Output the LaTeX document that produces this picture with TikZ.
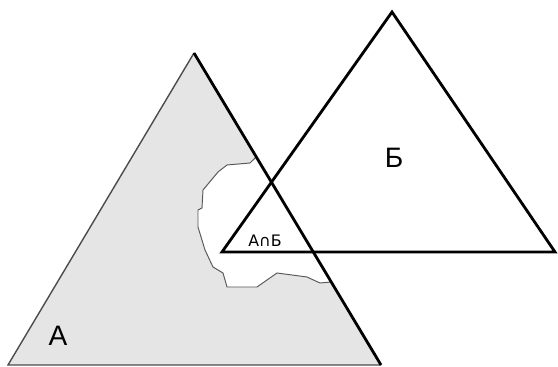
\documentclass[tikz,border=0pt]{standalone}
\usepackage{fontspec}
\setmainfont{Liberation Sans}
\newfontfamily\symfont{DejaVu Sans}
\usetikzlibrary{positioning,calc}

\begin{document}
\begin{tikzpicture}[x=0.02cm, y=-0.02cm,
    thickedge/.style={line width=1.6pt, black, line join=miter},
    thinedge/.style={line width=0.8pt, black!70},
    cutline/.style={line width=0.55pt, black!65},
    setfill/.style={fill=black!10},
    biglabel/.style={font=\fontsize{16}{16}\selectfont},
    smalllabel/.style={font=\symfont\fontsize{9}{9}\selectfont}
]
    \useasboundingbox (0,0) rectangle (558,367);

    % triangle A
    \coordinate (atop) at (194,53);
    \coordinate (aleft) at (8,365);
    \coordinate (aright) at (381,365);
    % triangle B
    \coordinate (btop) at (392,12);
    \coordinate (bleft) at (222,252);
    \coordinate (bright) at (555,252);
    % where the torn edge meets the side of A
    \coordinate (cutstart) at ($(atop)!0.333!(aright)$);
    \coordinate (cutend) at ($(atop)!0.734!(aright)$);

    % shaded set A with the torn-out part
    \fill[setfill] (atop) -- (cutstart) -- (250,163) -- (227,165) -- (218,172)
        -- (203,190) -- (202,208) -- (198,210) -- (198,227) -- (205,250)
        -- (213,267) -- (223,273) -- (227,287) -- (257,287) -- (277,273)
        -- (307,277) -- (320,283) -- (cutend) -- (aright) -- (aleft) -- cycle;
    \draw[cutline] (cutstart) -- (250,163) -- (227,165) -- (218,172)
        -- (203,190) -- (202,208) -- (198,210) -- (198,227) -- (205,250)
        -- (213,267) -- (223,273) -- (227,287) -- (257,287) -- (277,273)
        -- (307,277) -- (320,283) -- (cutend);

    \draw[thinedge] (aright) -- (aleft) -- (atop);
    \draw[thickedge] (atop) -- (aright);
    \draw[thickedge] (btop) -- (bright) -- (bleft) -- cycle;

    \node[biglabel] (labela) at (58,336) {А};
    \node[biglabel] (labelb) at (394,158) {Б};
    \node[smalllabel] (labelab) at (265,241) {А∩Б};
\end{tikzpicture}
\end{document}
